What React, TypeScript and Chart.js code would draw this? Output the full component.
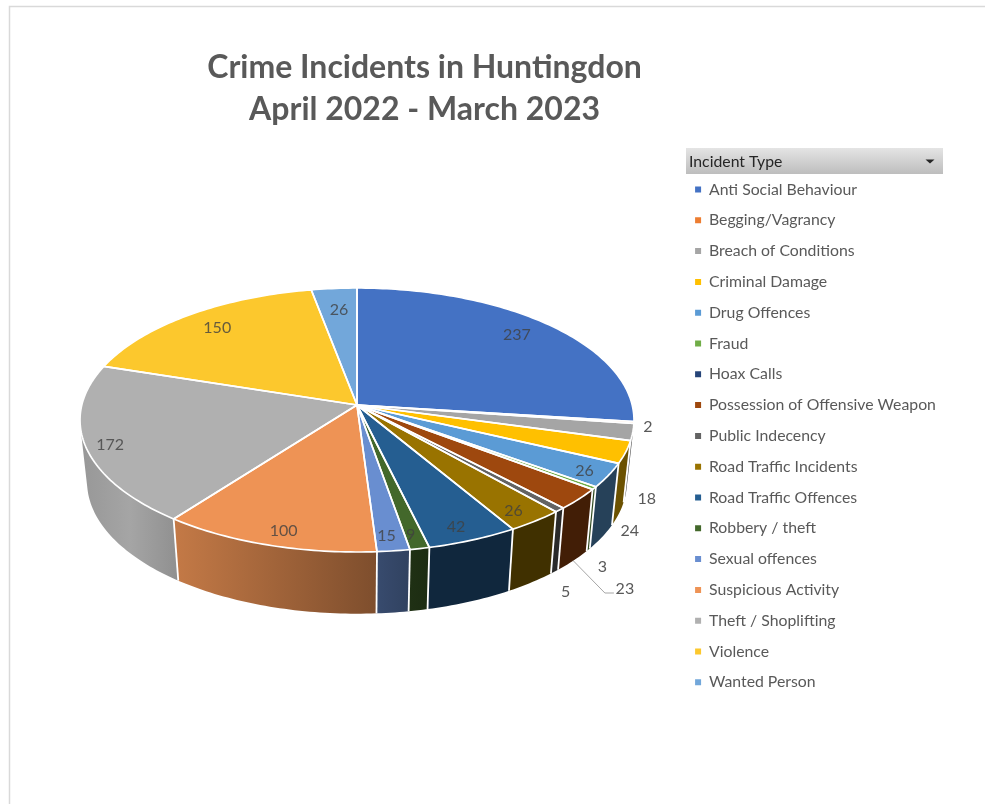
import React, { useEffect, useRef } from "react";
import { Chart, registerables } from "chart.js";

Chart.register(...registerables);

const categories = [
  "Anti Social Behaviour", "Begging/Vagrancy", "Breach of Conditions", "Criminal Damage",
  "Drug Offences", "Fraud", "Hoax Calls", "Possession of Offensive Weapon", "Public Indecency",
  "Road Traffic Incidents", "Road Traffic Offences", "Robbery / theft", "Sexual offences",
  "Suspicious Activity", "Theft / Shoplifting", "Violence", "Wanted Person",
];
const incidents = [237, 2, 18, 24, 26, 3, 0, 23, 5, 26, 42, 9, 15, 100, 172, 150, 26];
const titleLines = ["Crime Incidents in Huntingdon", "April 2022 - March 2023"];
const legendHeader = "Incident Type";

const faceColors = [
  "#4472C4", "#ED7D31", "#A5A5A5", "#FFC000", "#5B9BD5", "#70AD47", "#264478", "#9E480E",
  "#636363", "#997300", "#255E91", "#43682B", "#698ED0", "#EE9355", "#B0B0B0", "#FCC82D", "#72A7DA",
];

// Label placement, as an offset from the point of the rim at the middle of the slice.
const labelNudges: [number, number][] = [
  [-32, 10], [14, 4], [14, 67], [4, 79], [-24, -4], [8, 79], [0, 0], [46, 90], [6, 82],
  [-22, -10], [-17, -13], [-9, -14], [-7, -15], [16, -14], [25, -1], [28, 13], [5, 21],
];
const outsideLabels = [1, 2, 3, 5, 7, 8];
const leaderLabels = [7];

// Perspective of the tilted disc: the hub sits above the centre of the rim's ellipse.
const TILT = 0.1136;
const topFace = { cx: 357, cy: 405, a: 275.2, b: 130.3 };
const bottomFace = { cx: 357, cy: 466.7, a: 268.2, b: 130.3 };
const wallShade: [number, number][] = [
  [80, 0.86], [130, 0.94], [177, 0.82], [377, 0.53], [430, 0.42], [640, 0.42],
];
const DEG = Math.PI / 180;

function project(f: typeof topFace, angle: number) {
  const u = Math.cos(angle);
  const v = Math.sin(angle);
  const d = 1 - TILT * v;
  return { x: f.cx + (f.a * u) / d, y: f.cy + (f.b * v) / d };
}

function shade(hex: string, factor: number) {
  const n = parseInt(hex.slice(1), 16);
  const c = [(n >> 16) & 255, (n >> 8) & 255, n & 255].map((p) => Math.round(p * factor));
  return `rgb(${c[0]},${c[1]},${c[2]})`;
}

function rimPath(ctx: CanvasRenderingContext2D, f: typeof topFace, from: number, to: number, first: boolean) {
  const steps = Math.max(2, Math.ceil(Math.abs(to - from) / DEG));
  for (let i = 0; i <= steps; i++) {
    const p = project(f, from + ((to - from) * i) / steps);
    if (i === 0 && first) ctx.moveTo(p.x, p.y);
    else ctx.lineTo(p.x, p.y);
  }
}

const framePlugin = {
  id: "frame",
  beforeDraw(chart: any) {
    const ctx: CanvasRenderingContext2D = chart.ctx;
    ctx.save();
    ctx.fillStyle = "#ffffff";
    ctx.fillRect(0, 0, chart.width, chart.height);
    ctx.strokeStyle = "#d9d9d9";
    ctx.lineWidth = 1.5;
    ctx.beginPath();
    ctx.moveTo(9.5, chart.height);
    ctx.lineTo(9.5, 6.5);
    ctx.lineTo(chart.width, 6.5);
    ctx.stroke();

    const g = ctx.createLinearGradient(0, 148, 0, 174);
    g.addColorStop(0, "#e4e4e4");
    g.addColorStop(1, "#bdbdbd");
    ctx.fillStyle = g;
    ctx.fillRect(686, 148, 257, 26);
    ctx.fillStyle = "#262626";
    ctx.font = "15.8px Lato";
    ctx.textAlign = "left";
    ctx.textBaseline = "middle";
    ctx.fillText(legendHeader, 689, 161.5);
    ctx.beginPath();
    ctx.moveTo(925.5, 159.5);
    ctx.lineTo(934.5, 159.5);
    ctx.lineTo(930, 163.5);
    ctx.closePath();
    ctx.fill();
    ctx.restore();
  },
};

const discPlugin = {
  id: "disc",
  beforeDatasetsDraw(chart: any) {
    const ctx: CanvasRenderingContext2D = chart.ctx;
    const arcs = chart.getDatasetMeta(0).data;
    const slices = arcs
      .map((arc: any, index: number) => ({
        index,
        start: arc.startAngle as number,
        end: arc.endAngle as number,
        mid: (arc.startAngle + arc.endAngle) / 2,
      }))
      .filter((s: any) => incidents[s.index] > 0);

    ctx.save();
    ctx.lineJoin = "round";

    // Walls, far ones first; the range ends where the two rims share a tangent.
    const visFrom = 10 * DEG;
    const visTo = 170 * DEG;
    const walls = slices
      .filter((s: any) => s.end > visFrom && s.start < visTo)
      .sort((p: any, q: any) => Math.abs(q.mid - Math.PI / 2) - Math.abs(p.mid - Math.PI / 2));
    for (const s of walls) {
      const from = Math.max(s.start, visFrom);
      const to = Math.min(s.end, visTo);
      const grad = ctx.createLinearGradient(80, 0, 640, 0);
      for (const [x, f] of wallShade) grad.addColorStop((x - 80) / 560, shade(faceColors[s.index], f));
      ctx.beginPath();
      rimPath(ctx, topFace, from, to, true);
      rimPath(ctx, bottomFace, to, from, false);
      ctx.closePath();
      ctx.fillStyle = grad;
      ctx.fill();
    }
    ctx.strokeStyle = "#ffffff";
    ctx.lineWidth = 1.8;
    for (const s of slices) {
      if (s.start <= visFrom || s.start >= visTo) continue;
      const t = project(topFace, s.start);
      const b = project(bottomFace, s.start);
      ctx.beginPath();
      ctx.moveTo(t.x, t.y);
      ctx.lineTo(b.x, b.y);
      ctx.stroke();
    }

    // Top face.
    for (const s of slices) {
      ctx.beginPath();
      ctx.moveTo(topFace.cx, topFace.cy);
      rimPath(ctx, topFace, s.start, s.end, false);
      ctx.closePath();
      ctx.fillStyle = faceColors[s.index];
      ctx.fill();
    }
    ctx.lineWidth = 1.7;
    for (const s of slices) {
      ctx.beginPath();
      ctx.moveTo(topFace.cx, topFace.cy);
      rimPath(ctx, topFace, s.start, s.end, false);
      ctx.closePath();
      ctx.stroke();
    }

    // Leader lines and value labels.
    ctx.font = "16px Lato";
    ctx.textAlign = "center";
    ctx.textBaseline = "middle";
    for (const s of slices) {
      const rim = project(topFace, s.mid);
      const [dx, dy] = labelNudges[s.index];
      const x = rim.x + dx;
      const y = rim.y + dy;
      if (leaderLabels.includes(s.index)) {
        const foot = project(bottomFace, s.mid);
        ctx.strokeStyle = "#a6a6a6";
        ctx.lineWidth = 1;
        ctx.beginPath();
        ctx.moveTo(foot.x, foot.y);
        ctx.lineTo(x - 20, y + 4);
        ctx.lineTo(x - 11, y + 4);
        ctx.stroke();
      }
      ctx.fillStyle = outsideLabels.includes(s.index) ? "#595959" : "rgba(64,64,64,0.8)";
      ctx.fillText(String(incidents[s.index]), x, y);
    }
    ctx.restore();
    return false;
  },
};

export default function App() {
  const ref = useRef<HTMLCanvasElement | null>(null);
  useEffect(() => {
    if (!ref.current) return;
    const chart = new Chart(ref.current, {
      type: "pie",
      data: {
        labels: categories,
        datasets: [{ data: incidents, backgroundColor: faceColors, borderWidth: 0 }],
      },
      options: {
        animation: false,
        responsive: false,
        devicePixelRatio: 1,
        layout: { padding: { top: 47, left: 169, right: 39.1, bottom: 4 } },
        plugins: {
          tooltip: { enabled: false },
          title: {
            display: true,
            text: titleLines,
            fullSize: false,
            color: "#595959",
            font: { family: "Lato", size: 32, weight: "bold", lineHeight: 1.3 },
            padding: { top: 0, bottom: 36.4 },
          },
          legend: {
            display: true,
            position: "right",
            align: "start",
            fullSize: false,
            labels: {
              boxWidth: 6,
              boxHeight: 6,
              padding: 15,
              color: "#595959",
              font: { family: "Lato", size: 15.8 },
            },
          },
        },
      },
      plugins: [framePlugin, discPlugin],
    } as any);
    return () => chart.destroy();
  }, []);
  return (
    <canvas
      ref={ref}
      width={985}
      height={804}
      style={{ position: "absolute", left: 0, top: 0, width: 985, height: 804, display: "block" }}
    />
  );
}
